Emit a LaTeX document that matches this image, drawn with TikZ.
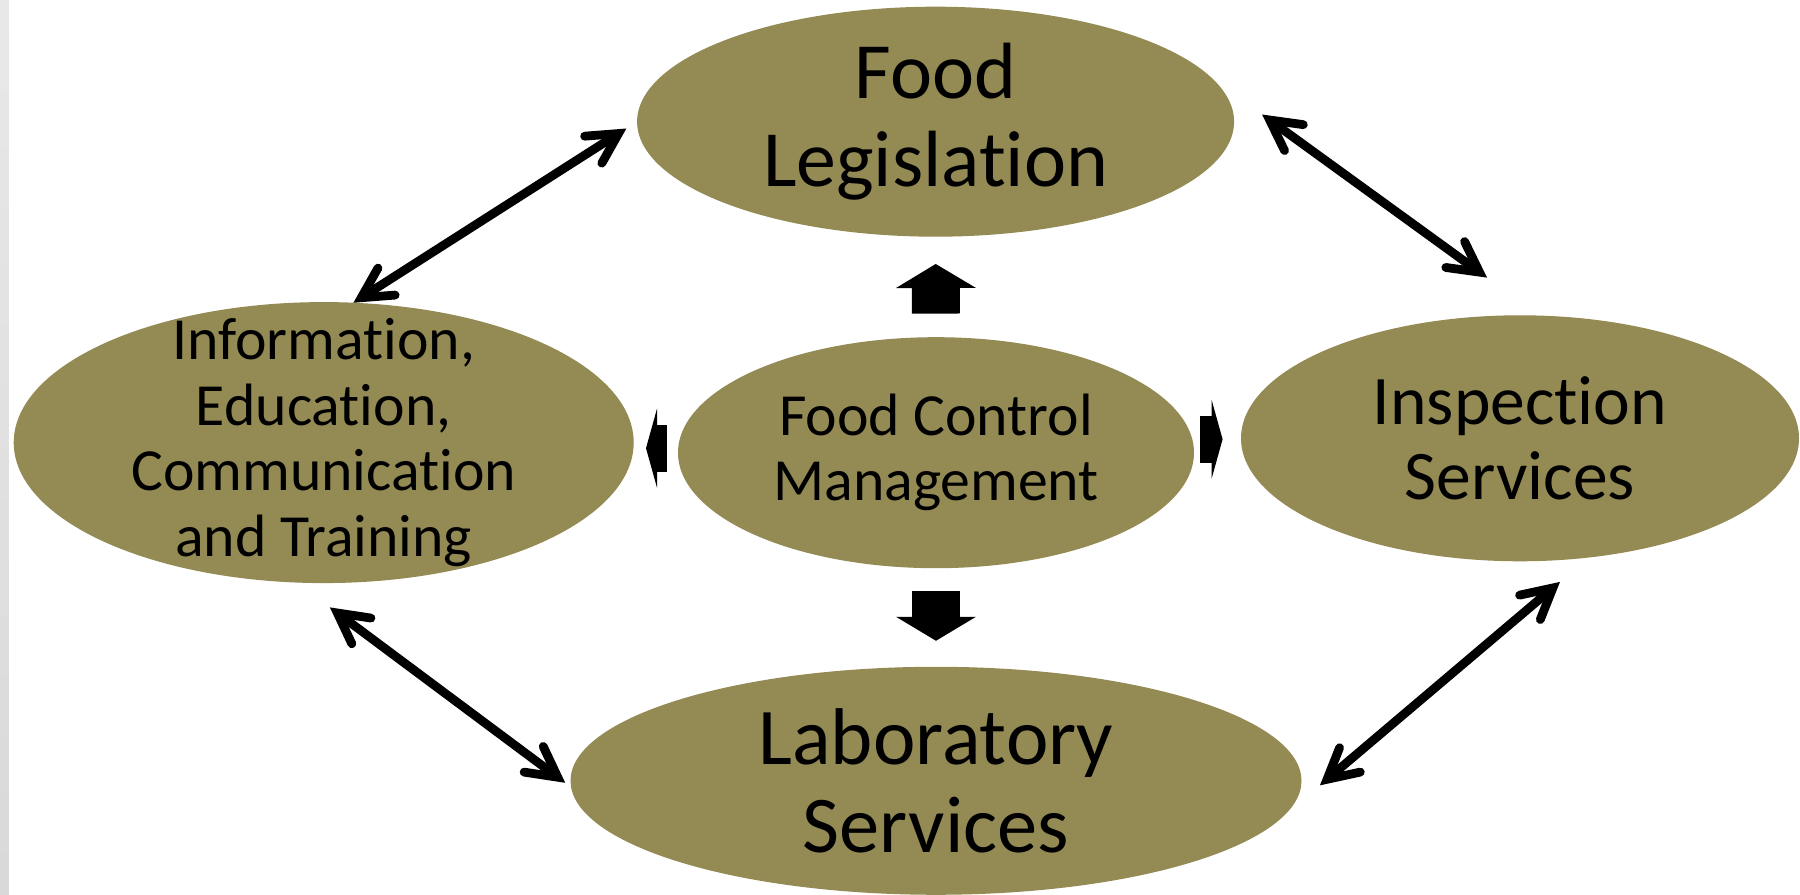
\documentclass[tikz,border=0pt]{standalone}
\usepackage{fontspec}
\setmainfont{Carlito}[RawFeature={-liga;-clig;-calt;-dlig}]
\usepackage{tikz}
\usetikzlibrary{shapes.geometric, arrows.meta}
\definecolor{FColive}{RGB}{148,138,84}

\begin{document}
\begin{tikzpicture}[>={Straight Barb[length=0.3cm, width=0.32cm, line join=miter, line cap=round]},
    blob/.style={ellipse, fill=FColive, inner sep=0pt, outer sep=0pt, align=center},
    link/.style={<->, line width=2.5pt},
    push/.style={line width=0.48cm, -{Triangle[length=0.24cm, width=0.8cm, line width=0pt]}},
    pushside/.style={line width=0.47cm, -{Triangle[length=0.11cm, width=0.79cm, line width=0pt]}}]
      % Page and grey strip on the left
      \fill[white] (0,0) rectangle (18,8.95);
      \shade[top color=gray!18, bottom color=gray!30] (0,0) rectangle (0.09,8.95);
      % The five ellipses
      \node[blob, minimum width=5.97cm, minimum height=2.30cm, font={\fontsize{22.7}{25}\selectfont}]
        (legis) at (9.356,7.733) {Food\\Legislation};
      \node[blob, minimum width=5.16cm, minimum height=2.31cm, font={\fontsize{17}{18.5}\selectfont}]
        (ctrl) at (9.36,4.423) {Food Control\\Management};
      \node[blob, minimum width=6.20cm, minimum height=2.81cm, inner ysep=-8pt, font={\fontsize{17}{18.6}\selectfont}]
        (info) at (3.237,4.524) {Information,\\Education,\\Communication\\and Training};
      \node[blob, minimum width=5.58cm, minimum height=2.46cm, font={\fontsize{19.8}{21.6}\selectfont}]
        (insp) at (15.20,4.567) {Inspection\\Services};
      \node[blob, minimum width=7.31cm, minimum height=2.28cm, font={\fontsize{22.9}{25}\selectfont}]
        (lab) at (9.36,1.142) {Laboratory\\Services};
      % Double arrows round the ring
      \draw[link, shorten >=0.127cm] (info.78) -- (legis.west);
      \draw[link, shorten <=0.623cm, shorten >=0.647cm] (legis.9) -- (insp.81);
      \draw[link, shorten <=0.416cm, shorten >=0.073cm] (info.259) -- (lab.181);
      \draw[link, shorten <=0.378cm, shorten >=0.493cm] (insp.300) -- (lab.354);
      % Block arrows out of the centre
      \draw[push, shorten <=0.236cm, shorten >=0.273cm] (ctrl.north) -- (legis.south);
      \draw[push, shorten <=0.23cm, shorten >=0.26cm] (ctrl.south) -- (lab.north);
      \draw[pushside, shorten <=0.11cm, shorten >=0.123cm] (ctrl.179) -- (ctrl.179 -| info.east);
      \draw[pushside, shorten <=0.075cm, shorten >=0.184cm] (ctrl.3) -- (ctrl.3 -| insp.west);
\end{tikzpicture}
\end{document}
